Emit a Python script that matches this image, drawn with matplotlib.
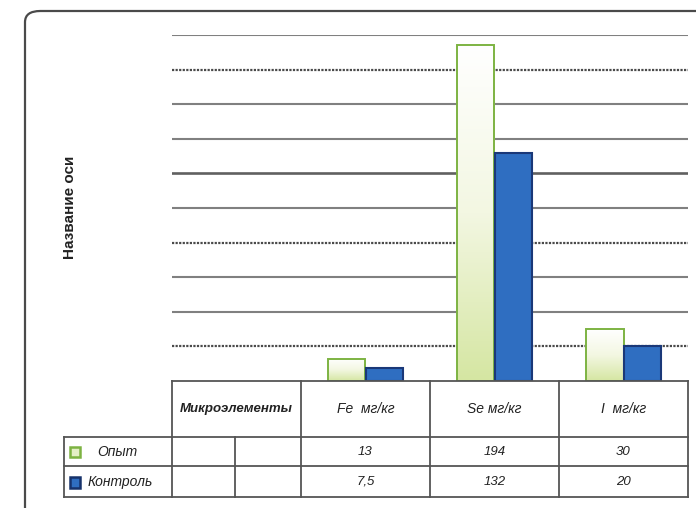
import numpy as np
import matplotlib
matplotlib.use("Agg")
import matplotlib.pyplot as plt
from matplotlib.patches import FancyBboxPatch, Rectangle
from matplotlib.lines import Line2D
import matplotlib.transforms as mtransforms
from matplotlib.colors import LinearSegmentedColormap

plt.rcParams['font.family'] = ['Liberation Sans', 'DejaVu Sans']

# ---- data ----
categories = ["Микроэлементы", "Fe  мг/кг", "Se мг/кг", "I  мг/кг"]
series_names = ["Опыт", "Контроль"]
opyt = [np.nan, 13, 194, 30]
kontrol = [np.nan, 7.5, 132, 20]
opyt_labels = ["", "13", "194", "30"]
kontrol_labels = ["", "7,5", "132", "20"]
y_label = "Название оси"
y_ticks = [20, 40, 60, 80, 100, 120, 140, 160, 180, 200]

W, H = 696, 508
fig = plt.figure(figsize=(W / 100, H / 100), dpi=100)

def fx(px):
    return px / W

def fy(py):
    return 1 - py / H

# frame
frame = FancyBboxPatch((fx(25), fy(560)), fx(720), fy(11) - fy(560),
                       boxstyle="round,pad=0,rounding_size=0.022",
                       transform=fig.transFigure, fill=False,
                       edgecolor="#4a4a4a", linewidth=1.6)
fig.add_artist(frame)

ax_left, ax_right, ax_top, ax_bot = 172, 688, 35, 381
ax = fig.add_axes([fx(ax_left), fy(ax_bot), fx(ax_right - ax_left), fy(ax_top) - fy(ax_bot)])
ax.set_xlim(-0.5, len(categories) - 0.5)
ax.set_ylim(0, 200)
for s in ax.spines.values():
    s.set_visible(False)
ax.set_xticks([])
ax.set_yticks([])
ax.set_zorder(1)

# gridlines
for t in y_ticks:
    if t in (180, 80, 20):
        ax.axhline(t, color="#4a4a4a", lw=1.6, ls=(0, (1.0, 0.6)), zorder=0)
    elif t == 120:
        ax.axhline(t, color="#606060", lw=1.9, zorder=0)
    else:
        ax.axhline(t, color="#808080", lw=1.5, zorder=0)

# bars
x = np.arange(len(categories))
bw = 0.287
green_cmap = LinearSegmentedColormap.from_list("g", ["#d5e6a2", "#f3f7e2", "#ffffff"])
grad = np.linspace(0, 1, 256).reshape(-1, 1)
for i in range(len(categories)):
    v = opyt[i]
    if not np.isnan(v):
        r = Rectangle((x[i] - bw, 0), bw, v, facecolor="none",
                      edgecolor="#7db342", linewidth=1.4, zorder=3)
        ax.add_patch(r)
        im = ax.imshow(grad, cmap=green_cmap, aspect="auto",
                       extent=(x[i] - bw, x[i], 0, v), origin="lower", zorder=2)
        im.set_clip_path(r)
    v2 = kontrol[i]
    if not np.isnan(v2):
        ax.bar(x[i] + bw / 2, v2, width=bw, color="#2f6ec1",
               edgecolor="#1a3878", linewidth=1.5, zorder=3)
ax.set_xlim(-0.5, len(categories) - 0.5)
ax.set_ylim(0, 200)

# y label
fig.text(fx(70), fy(207), y_label, rotation=90, ha="center", va="center",
         fontsize=11, fontweight="bold", color="#222222")

# table drawn under the axes
tr = mtransforms.blended_transform_factory(ax.transData, fig.transFigure)
line_kw = dict(color="#555555", lw=1.3, transform=tr, clip_on=False)
row_y = [381, 437, 466, 497]
col_x = [-0.5, 0.5, 1.5, 2.5, 3.5]
label_left = -0.5 - (172 - 64) / 129.0
split_x = -0.5 + (235 - 172) / 129.0

# horizontal lines
fig.add_artist(Line2D([col_x[0], col_x[-1]], [fy(381)] * 2, **line_kw))
for ry in row_y[1:]:
    fig.add_artist(Line2D([label_left, col_x[-1]], [fy(ry)] * 2, **line_kw))
# vertical lines
for cx in col_x:
    fig.add_artist(Line2D([cx, cx], [fy(381), fy(497)], **line_kw))
fig.add_artist(Line2D([label_left, label_left], [fy(437), fy(497)], **line_kw))
fig.add_artist(Line2D([split_x, split_x], [fy(437), fy(497)], **line_kw))

# header texts
for i, c in enumerate(categories):
    fig.text(x[i], fy(409), c, transform=tr, ha="center", va="center",
             fontsize=9.5 if i == 0 else 10, style="italic",
             fontweight="bold" if i == 0 else "normal", color="#222222")
for i in range(len(categories)):
    fig.text(x[i], fy(452), opyt_labels[i], transform=tr, ha="center",
             va="center", fontsize=9.5, style="italic", color="#222222")
    fig.text(x[i], fy(482), kontrol_labels[i], transform=tr, ha="center",
             va="center", fontsize=9.5, style="italic", color="#222222")

# row legends
fig.add_artist(Rectangle((fx(70), fy(457)), fx(10), fy(447) - fy(457),
                         transform=fig.transFigure, facecolor="#e4efc6",
                         edgecolor="#7db342", lw=1.8))
fig.add_artist(Rectangle((fx(70), fy(488)), fx(10), fy(477) - fy(488),
                         transform=fig.transFigure, facecolor="#2f6ec1",
                         edgecolor="#17326b", lw=1.8))
fig.text(fx(97), fy(452), series_names[0], ha="left", va="center",
         fontsize=10, style="italic", color="#222222")
fig.text(fx(88), fy(482), series_names[1], ha="left", va="center",
         fontsize=10, style="italic", color="#222222")

fig.savefig("out.png", dpi=100)
